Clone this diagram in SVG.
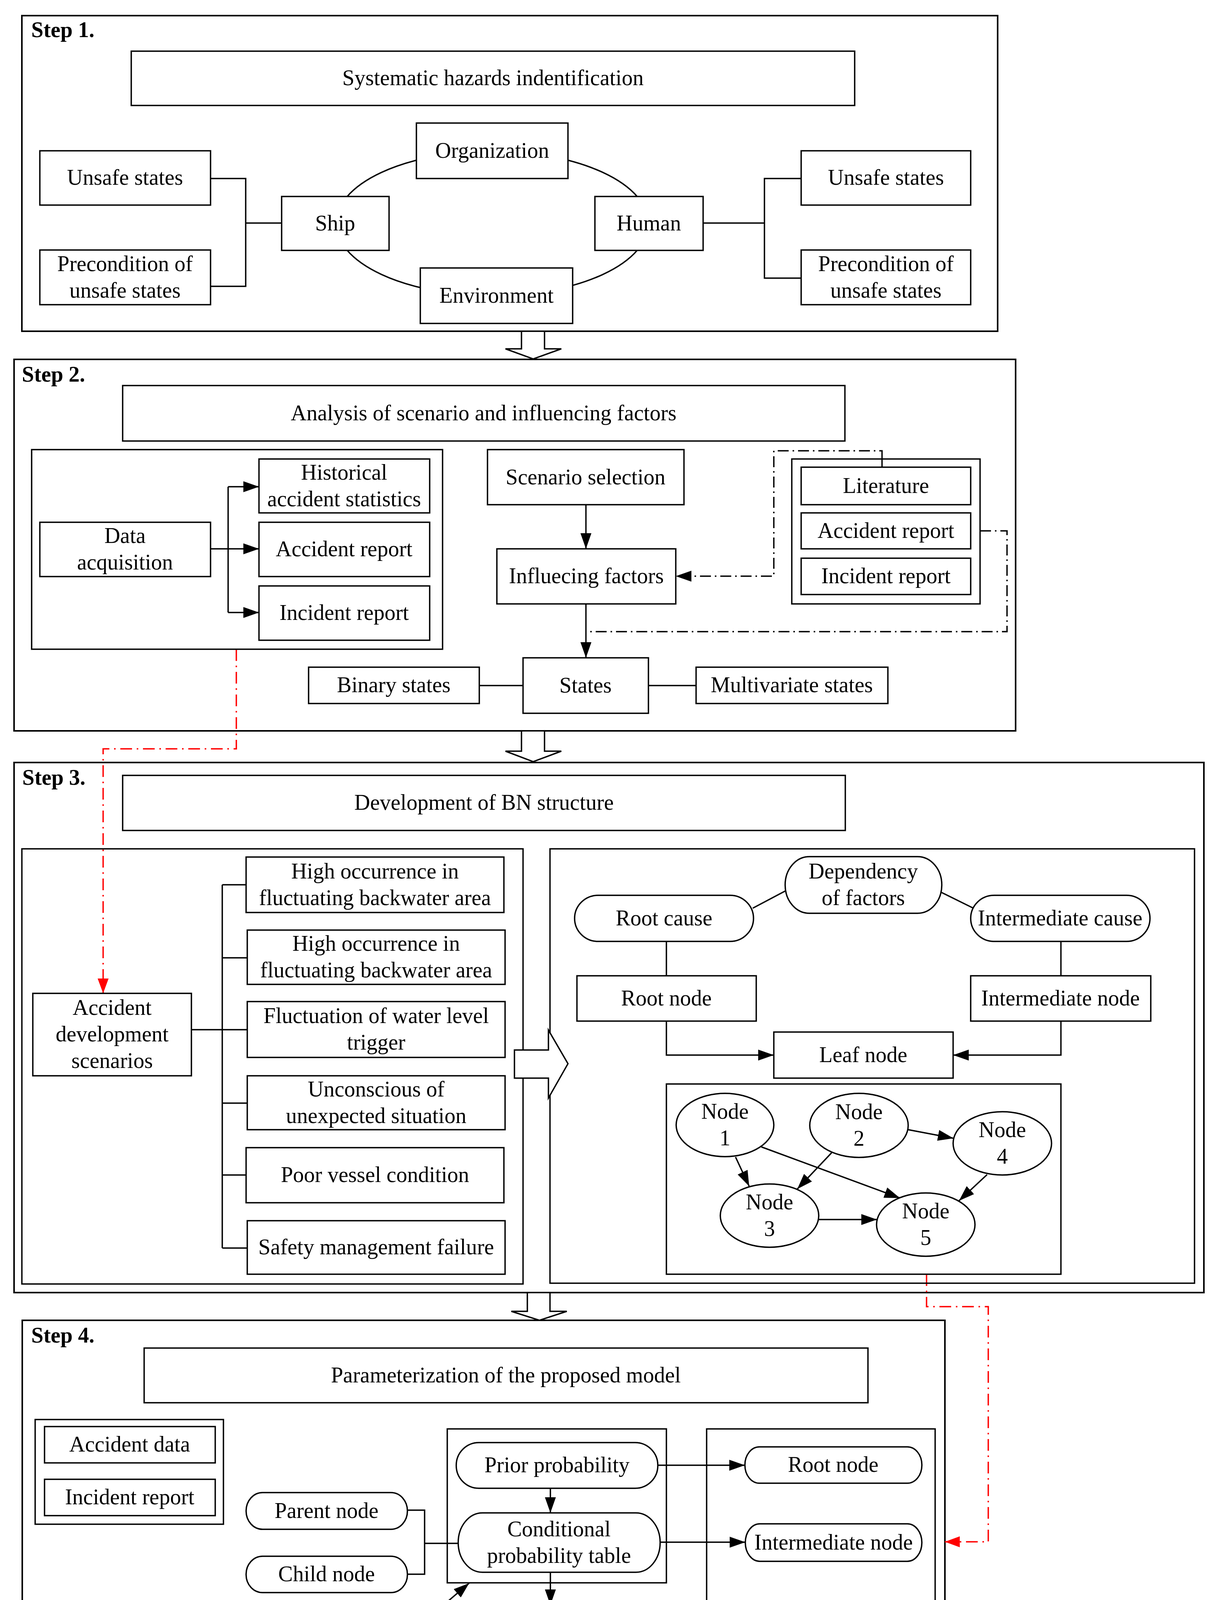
<svg xmlns="http://www.w3.org/2000/svg" width="3113" height="5134" viewBox="0 0 3113 5134">
<style>
.b{fill:#fff;stroke:#000;stroke-width:3.5}
.o{fill:#fff;stroke:#000;stroke-width:4}
.t{font-family:"Liberation Serif","Times New Roman",serif;font-size:56px;text-anchor:middle;fill:#000}
.s{font-family:"Liberation Serif","Times New Roman",serif;font-size:56px;font-weight:bold;fill:#000}
.l{font-family:"Liberation Serif","Times New Roman",serif;font-size:56px;fill:#000}
.bu{font-family:"Liberation Serif","Times New Roman",serif;font-size:64px;text-anchor:middle;fill:#000}
.ln{fill:none;stroke:#000;stroke-width:3.5}
.ar{fill:none;stroke:#000;stroke-width:3.5;marker-end:url(#ah)}
.dd{fill:none;stroke:#000;stroke-width:3.5;stroke-dasharray:28 10 4 10}
.rd{fill:none;stroke:#f00;stroke-width:3.5;stroke-dasharray:30 12 4 12;marker-end:url(#rh)}
.ba{fill:#fff;stroke:#000;stroke-width:3.5}
</style>
<defs>
<marker id="ah" markerUnits="userSpaceOnUse" markerWidth="40" markerHeight="28" refX="40" refY="14" orient="auto"><path d="M0,0 L40,14 L0,28 Z" fill="#000"/></marker>
<marker id="rh" markerUnits="userSpaceOnUse" markerWidth="38" markerHeight="28" refX="38" refY="14" orient="auto"><path d="M0,0 L38,14 L0,28 Z" fill="#f00"/></marker>
</defs>
<rect width="3113" height="5134" fill="#fff"/>

<!-- Step containers -->
<g id="step1">
<rect class="o" x="56" y="40" width="2498" height="808"/>
<text class="s" x="80" y="95">Step 1.</text>
</g>
<g id="step2">
<rect class="o" x="36" y="920" width="2564" height="951"/>
<text class="s" x="56" y="977">Step 2.</text>
</g>
<g id="step3">
<rect class="o" x="36" y="1952" width="3046" height="1357"/>
<text class="s" x="57" y="2009">Step 3.</text>
</g>
<g id="step4">
<rect class="o" x="57" y="3380" width="2362" height="927"/>
<text class="s" x="80" y="3437">Step 4.</text>
</g>
<g id="step5">
<rect class="o" x="57" y="4367" width="2362" height="523"/>
<text class="s" x="80" y="4425">Step 5.</text>
</g>

<!-- Connectors -->
<g id="connectors">
<ellipse class="ln" cx="1260" cy="572" rx="400" ry="185"/>
<path class="ln" d="M539,457 H629 V733 H539 M629,571 H721"/>
<path class="ln" d="M1800,571 H1957 M2051,457 H1957 V712 H2051"/>
<path class="ln" d="M539,1405 H584 M584,1246 V1568"/>
<path class="ar" d="M584,1246 H663"/>
<path class="ar" d="M584,1405 H663"/>
<path class="ar" d="M584,1568 H663"/>
<path class="ar" d="M1500,1292 V1405"/>
<path class="ar" d="M1500,1546 V1684"/>
<path class="ln" d="M1227,1755 H1339 M1660,1755 H1782"/>
<path class="ln" d="M2258,1175 V1196"/>
<path class="dd" d="M2258,1175 V1154 H1981 V1475 H1772"/>
<path d="M1730,1475 L1770,1461 L1770,1489 Z" fill="#000"/>
<path class="dd" d="M2509,1359 H2578 V1617 H1500"/>
<path class="rd" d="M605,1662 V1917 H264 V2543"/>
<path class="ln" d="M490,2636 H633 M569,2265 V3195 M569,2265 H630 M569,2452 H633 M569,2824 H633 M569,3008 H630 M569,3195 H633"/>
<path class="ln" d="M1927,2325 L2012,2280 M2409,2284 L2492,2325 M1706,2410 V2498 M2716,2410 V2498"/>
<path class="ar" d="M1706,2614 V2701 H1981"/>
<path class="ar" d="M2716,2614 V2701 H2440"/>
<path class="ar" d="M1883,2962 L1918,3037"/>
<path class="ar" d="M1949,2936 L2304,3067"/>
<path class="ar" d="M2129,2951 L2041,3044"/>
<path class="ar" d="M2325,2892 L2441,2914"/>
<path class="ar" d="M2527,3007 L2455,3074"/>
<path class="ar" d="M2096,3122 L2245,3122"/>
<path class="rd" d="M2372,3262 V3345 H2530 V3947 H2419"/>
<path class="ln" d="M1043,3866 H1087 V4030 H1043 M1087,3951 H1173"/>
<path class="ar" d="M1409,3810 V3873"/>
<path class="ar" d="M1409,4025 V4109"/>
<path class="ar" d="M1684,3751 H1907"/>
<path class="ar" d="M1690,3948 H1908"/>
<path class="ar" d="M1685,4168 H1904"/>
<path class="ar" d="M1020,4207 L1201,4053"/>
<path class="ln" d="M1215,4568 V4727 M697,4727 H1730"/>
<polygon class="ba" points="1335,848 1394,848 1394,893 1437,893 1365,919 1294,893 1335,893"/>
<polygon class="ba" points="1335,1871 1394,1871 1394,1923 1437,1923 1365,1950 1294,1923 1335,1923"/>
<polygon class="ba" points="1350,3309 1408,3309 1408,3357 1451,3357 1381,3380 1309,3357 1350,3357"/>
<polygon class="ba" points="1180,4298 1231,4298 1231,4341 1279,4341 1206,4367 1132,4341 1180,4341"/>
<polygon class="ba" points="1180,4890 1231,4890 1231,4932 1279,4932 1206,4957 1132,4932 1180,4932"/>
</g>

<!-- Step 1 nodes -->
<g id="s1-title"><rect class="b" x="336" y="131" width="1852" height="139"/><text class="t" x="1262" y="218">Systematic hazards indentification</text></g>
<g id="s1-organization"><rect class="b" x="1066" y="315" width="388" height="142"/><text class="t" x="1260" y="404">Organization</text></g>
<g id="s1-ship"><rect class="b" x="721" y="503" width="275" height="138"/><text class="t" x="858" y="590">Ship</text></g>
<g id="s1-human"><rect class="b" x="1523" y="503" width="277" height="138"/><text class="t" x="1661" y="590">Human</text></g>
<g id="s1-environment"><rect class="b" x="1076" y="686" width="390" height="142"/><text class="t" x="1271" y="775">Environment</text></g>
<g id="s1-unsafe-l"><rect class="b" x="102" y="386" width="437" height="139"/><text class="t" x="320" y="473">Unsafe states</text></g>
<g id="s1-precond-l"><rect class="b" x="102" y="640" width="437" height="140"/><text class="t" x="320" y="694">Precondition of</text><text class="t" x="320" y="762">unsafe states</text></g>
<g id="s1-unsafe-r"><rect class="b" x="2051" y="386" width="434" height="139"/><text class="t" x="2268" y="473">Unsafe states</text></g>
<g id="s1-precond-r"><rect class="b" x="2051" y="640" width="434" height="140"/><text class="t" x="2268" y="694">Precondition of</text><text class="t" x="2268" y="762">unsafe states</text></g>

<!-- Step 2 nodes -->
<g id="s2-title"><rect class="b" x="314" y="987" width="1849" height="142"/><text class="t" x="1238" y="1076">Analysis of scenario and influencing factors</text></g>
<g id="s2-datagroup"><rect class="b" x="81" y="1151" width="1052" height="511" style="fill:none"/></g>
<g id="s2-data"><rect class="b" x="102" y="1337" width="437" height="139"/><text class="t" x="320" y="1390">Data</text><text class="t" x="320" y="1458">acquisition</text></g>
<g id="s2-historical"><rect class="b" x="663" y="1175" width="437" height="138"/><text class="t" x="881" y="1228">Historical</text><text class="t" x="881" y="1296">accident statistics</text></g>
<g id="s2-accident"><rect class="b" x="663" y="1337" width="437" height="139"/><text class="t" x="881" y="1424">Accident report</text></g>
<g id="s2-incident"><rect class="b" x="663" y="1500" width="437" height="139"/><text class="t" x="881" y="1587">Incident report</text></g>
<g id="s2-scenario"><rect class="b" x="1248" y="1151" width="503" height="141"/><text class="t" x="1499" y="1240">Scenario selection</text></g>
<g id="s2-influecing"><rect class="b" x="1272" y="1405" width="458" height="141"/><text class="t" x="1501" y="1493">Influecing factors</text></g>
<g id="s2-sourcegroup"><rect class="b" x="2027" y="1175" width="482" height="371" style="fill:none"/></g>
<g id="s2-literature"><rect class="b" x="2051" y="1196" width="434" height="96"/><text class="t" x="2268" y="1262">Literature</text></g>
<g id="s2-accident-r"><rect class="b" x="2051" y="1313" width="434" height="92"/><text class="t" x="2268" y="1377">Accident report</text></g>
<g id="s2-incident-r"><rect class="b" x="2051" y="1429" width="434" height="93"/><text class="t" x="2268" y="1493">Incident report</text></g>
<g id="s2-binary"><rect class="b" x="790" y="1708" width="437" height="93"/><text class="t" x="1008" y="1772">Binary states</text></g>
<g id="s2-states"><rect class="b" x="1339" y="1684" width="321" height="142"/><text class="t" x="1499" y="1773">States</text></g>
<g id="s2-multivariate"><rect class="b" x="1782" y="1708" width="491" height="93"/><text class="t" x="2027" y="1772">Multivariate states</text></g>

<!-- Step 3 nodes -->
<g id="s3-title"><rect class="b" x="314" y="1985" width="1850" height="141"/><text class="t" x="1239" y="2073">Development of BN structure</text></g>
<g id="s3-leftgroup"><rect class="b" x="56" y="2173" width="1283" height="1114" style="fill:none"/></g>
<g id="s3-rightgroup"><rect class="b" x="1408" y="2173" width="1650" height="1112" style="fill:none"/></g>
<g id="s3-scenarios"><rect class="b" x="84" y="2543" width="406" height="211"/><text class="t" x="287" y="2598">Accident</text><text class="t" x="287" y="2666">development</text><text class="t" x="287" y="2734">scenarios</text></g>
<g id="s3-f1"><rect class="b" x="630" y="2194" width="660" height="142"/><text class="t" x="960" y="2249">High occurrence in</text><text class="t" x="960" y="2317">fluctuating backwater area</text></g>
<g id="s3-f2"><rect class="b" x="633" y="2381" width="660" height="139"/><text class="t" x="963" y="2434">High occurrence in</text><text class="t" x="963" y="2502">fluctuating backwater area</text></g>
<g id="s3-f3"><rect class="b" x="633" y="2564" width="660" height="143"/><text class="t" x="963" y="2619">Fluctuation of water level</text><text class="t" x="963" y="2687">trigger</text></g>
<g id="s3-f4"><rect class="b" x="633" y="2754" width="660" height="138"/><text class="t" x="963" y="2807">Unconscious of</text><text class="t" x="963" y="2875">unexpected situation</text></g>
<g id="s3-f5"><rect class="b" x="630" y="2938" width="660" height="141"/><text class="t" x="960" y="3026">Poor vessel condition</text></g>
<g id="s3-f6"><rect class="b" x="633" y="3125" width="660" height="137"/><text class="t" x="963" y="3211">Safety management failure</text></g>
<g id="s3-blockarrow"><polygon class="ba" points="1317,2688 1404,2688 1404,2637 1454,2723 1404,2811 1404,2760 1317,2760"/></g>
<g id="s3-dependency"><rect class="b" x="2010" y="2193" width="401" height="145" rx="62" ry="72"/><text class="t" x="2210" y="2249">Dependency</text><text class="t" x="2210" y="2317">of factors</text></g>
<g id="s3-rootcause"><rect class="b" x="1471" y="2292" width="458" height="118" rx="60" ry="59"/><text class="t" x="1700" y="2369">Root cause</text></g>
<g id="s3-intercause"><rect class="b" x="2485" y="2292" width="459" height="118" rx="60" ry="59"/><text class="t" x="2714" y="2369">Intermediate cause</text></g>
<g id="s3-rootnode"><rect class="b" x="1477" y="2498" width="459" height="116"/><text class="t" x="1706" y="2574">Root node</text></g>
<g id="s3-internode"><rect class="b" x="2485" y="2498" width="461" height="116"/><text class="t" x="2715" y="2574">Intermediate node</text></g>
<g id="s3-leafnode"><rect class="b" x="1981" y="2642" width="459" height="118"/><text class="t" x="2210" y="2719">Leaf node</text></g>
<g id="s3-graphbox"><rect class="b" x="1706" y="2775" width="1010" height="487" style="fill:none"/></g>
<g id="s3-node1"><ellipse class="b" cx="1856" cy="2880" rx="125" ry="81"/><text class="t" x="1856" y="2864">Node</text><text class="t" x="1856" y="2932">1</text></g>
<g id="s3-node2"><ellipse class="b" cx="2199" cy="2881" rx="126" ry="82"/><text class="t" x="2199" y="2865">Node</text><text class="t" x="2199" y="2933">2</text></g>
<g id="s3-node4"><ellipse class="b" cx="2566" cy="2927" rx="126" ry="81"/><text class="t" x="2566" y="2911">Node</text><text class="t" x="2566" y="2979">4</text></g>
<g id="s3-node3"><ellipse class="b" cx="1970" cy="3112" rx="126" ry="81"/><text class="t" x="1970" y="3096">Node</text><text class="t" x="1970" y="3164">3</text></g>
<g id="s3-node5"><ellipse class="b" cx="2370" cy="3135" rx="126" ry="81"/><text class="t" x="2370" y="3119">Node</text><text class="t" x="2370" y="3187">5</text></g>

<!-- Step 4 nodes -->
<g id="s4-title"><rect class="b" x="369" y="3451" width="1853" height="140"/><text class="t" x="1295" y="3539">Parameterization of the proposed model</text></g>
<g id="s4-datagroup"><rect class="b" x="90" y="3634" width="482" height="268" style="fill:none"/></g>
<g id="s4-accidentdata"><rect class="b" x="114" y="3652" width="437" height="93"/><text class="t" x="332" y="3716">Accident data</text></g>
<g id="s4-incident"><rect class="b" x="114" y="3787" width="437" height="93"/><text class="t" x="332" y="3851">Incident report</text></g>
<g id="s4-parent"><rect class="b" x="630" y="3821" width="413" height="94" rx="42" ry="47"/><text class="t" x="836" y="3886">Parent node</text></g>
<g id="s4-child"><rect class="b" x="630" y="3984" width="413" height="93" rx="42" ry="46"/><text class="t" x="836" y="4048">Child node</text></g>
<g id="s4-transforming"><path class="b" d="M650,4123 H1018 A24,75.5 0 0 1 1018,4274 H650 A21,75.5 0 0 1 650,4123 Z"/><path class="ln" d="M1018,4123 A24,75.5 0 0 0 1018,4274"/><text class="t" x="822" y="4182">Transforming</text><text class="t" x="822" y="4250">technique</text></g>
<g id="s4-midgroup"><rect class="b" x="1145" y="3658" width="561" height="394" style="fill:none"/></g>
<g id="s4-prior"><rect class="b" x="1168" y="3693" width="516" height="117" rx="58" ry="58"/><text class="t" x="1426" y="3769">Prior probability</text></g>
<g id="s4-cpt"><rect class="b" x="1173" y="3873" width="517" height="152" rx="62" ry="76"/><text class="t" x="1431" y="3933">Conditional</text><text class="t" x="1431" y="4001">probability table</text></g>
<g id="s4-posterior"><rect class="b" x="1179" y="4109" width="506" height="118" rx="58" ry="59"/><text class="t" x="1432" y="4186">Posterior probability</text></g>
<g id="s4-rightgroup"><rect class="b" x="1809" y="3658" width="585" height="606" style="fill:none"/></g>
<g id="s4-rootnode"><rect class="b" x="1907" y="3704" width="453" height="93" rx="37" ry="46"/><text class="t" x="2133" y="3768">Root node</text></g>
<g id="s4-internode"><rect class="b" x="1908" y="3901" width="452" height="96" rx="37" ry="48"/><text class="t" x="2134" y="3967">Intermediate node</text></g>
<g id="s4-leafnode"><rect class="b" x="1904" y="4123" width="453" height="95" rx="37" ry="47"/><text class="t" x="2130" y="4188">Leaf node</text></g>

<!-- Step 5 nodes -->
<g id="s5-validation"><rect class="b" x="700" y="4426" width="1030" height="142"/><text class="t" x="1215" y="4515">Model validation</text></g>
<g id="s5-axioms"><path class="b" d="M239,4620 H646 A139,139 0 0 1 646,4835 H239 A131,131 0 0 1 239,4620 Z"/>
<text class="bu" x="318" y="4679">•</text><text class="l" x="378" y="4674">Axiom 1</text>
<text class="bu" x="318" y="4749">•</text><text class="l" x="378" y="4744">Axiom 2</text>
<text class="bu" x="318" y="4818">•</text><text class="l" x="378" y="4813">Axiom 3</text></g>
<g id="s5-predominant"><path class="b" d="M1786,4613 H2185 A124.5,124.5 0 0 1 2185,4826 H1786 A129,129 0 0 1 1786,4613 Z"/><text class="t" x="1987" y="4702">Predomonant factors</text><text class="t" x="1987" y="4771">analysis</text></g>
<g id="result"><rect class="b" x="700" y="4957" width="1030" height="142"/><text class="t" x="1215" y="5046">Result analysis</text></g>
</svg>
